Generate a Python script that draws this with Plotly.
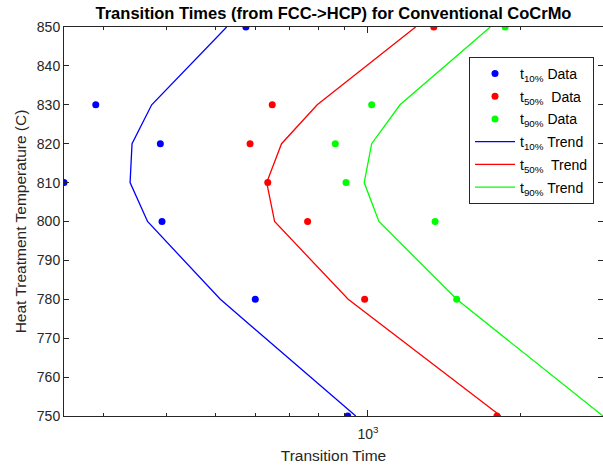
import math
import plotly.graph_objects as go

temps = [850, 830, 820, 810, 800, 780, 750]

t10_data = [574, 290, 389, 251, 392, 599, 912]
t50_data = [1349, 647, 585, 634, 760, 985, 1798]
t90_temps = [850, 830, 820, 810, 800, 780]
t90_data = [1866, 1017, 862, 905, 1357, 1497]

t10_trend = [526, 374, 342, 339, 367, 511, 946]
t50_trend = [1242, 794, 675, 631, 654, 914, 1829]
t90_trend = [1744, 1157, 1017, 983, 1051, 1497, 2912]

x_range = [251, 2912]
y_range = [750, 850]
y_ticks = list(range(750, 851, 10))
x_major = [1000]
x_major_text = ["10<sup>3</sup>"]
x_minor = [300, 400, 500, 600, 700, 800, 900, 2000]

BLUE, RED, GREEN = "#0000ff", "#ff0000", "#00ff00"
font = "Liberation Sans, Arial, sans-serif"

L, R, T, B = 64, 0, 27, 53
W, H = 603, 469
pw, ph = W - L - R, H - T - B

fig = go.Figure()
mk = dict(size=7)
series = [
    (t10_data, temps, "markers", BLUE, "t<sub>10%</sub> Data"),
    (t50_data, temps, "markers", RED, "t<sub>50%</sub>\u00a0 Data"),
    (t90_data, t90_temps, "markers", GREEN, "t<sub>90%</sub> Data"),
    (t10_trend, temps, "lines", BLUE, "t<sub>10%</sub> Trend"),
    (t50_trend, temps, "lines", RED, "t<sub>50%</sub>\u00a0 Trend"),
    (t90_trend, temps, "lines", GREEN, "t<sub>90%</sub> Trend"),
]
for i, (xs, ys, mode, col, nm) in enumerate(series):
    if mode == "markers":
        fig.add_trace(go.Scatter(x=xs, y=ys, mode=mode, marker=dict(color=col, **mk),
                                 name=nm, legendgroup=f"g{i}"))
    else:
        fig.add_trace(go.Scatter(x=xs, y=ys, mode=mode, line=dict(color=col, width=1.3),
                                 name=nm, legendgroup=f"g{i}"))

axcol = "#262626"
fig.update_layout(
    width=W, height=H,
    margin=dict(l=L, r=R, t=T, b=B),
    paper_bgcolor="white", plot_bgcolor="white",
    font=dict(family=font, size=14, color=axcol),
    title=dict(text="<b>Transition Times (from FCC->HCP) for Conventional CoCrMo</b>",
               x=(L + W) / 2 / W, xanchor="center", y=1 - 13 / H, yanchor="middle",
               font=dict(family=font, size=16.5, color="#000000")),
    showlegend=True,
    legend=dict(x=(469 - L) / pw, y=1 - (57 - T) / ph, xanchor="left", yanchor="top",
                bgcolor="white", bordercolor=axcol, borderwidth=1, itemwidth=40,
                font=dict(family=font, size=14, color="#000000"), tracegroupgap=1.5),
    xaxis=dict(type="log", range=[math.log10(x_range[0]), math.log10(x_range[1])],
               tickmode="array", tickvals=x_major, ticktext=x_major_text,
               ticks="inside", ticklen=6, tickcolor=axcol, ticklabelstandoff=5,
               minor=dict(tickmode="array", tickvals=x_minor, ticks="inside", ticklen=3,
                          tickcolor=axcol, showgrid=False),
               showline=True, linecolor=axcol, linewidth=1, mirror="allticks",
               showgrid=False, zeroline=False,
               title=dict(text="Transition Time", font=dict(size=15.5), standoff=9),
               tickfont=dict(size=14)),
    yaxis=dict(range=y_range, tickmode="array", tickvals=y_ticks,
               ticks="inside", ticklen=5, tickcolor=axcol,
               showline=True, linecolor=axcol, linewidth=1, mirror="allticks",
               showgrid=False, zeroline=False,
               title=dict(text="Heat Treatment Temperature (C)", font=dict(size=15.5), standoff=6),
               tickfont=dict(size=14)),
)

fig.write_html("out.html")
